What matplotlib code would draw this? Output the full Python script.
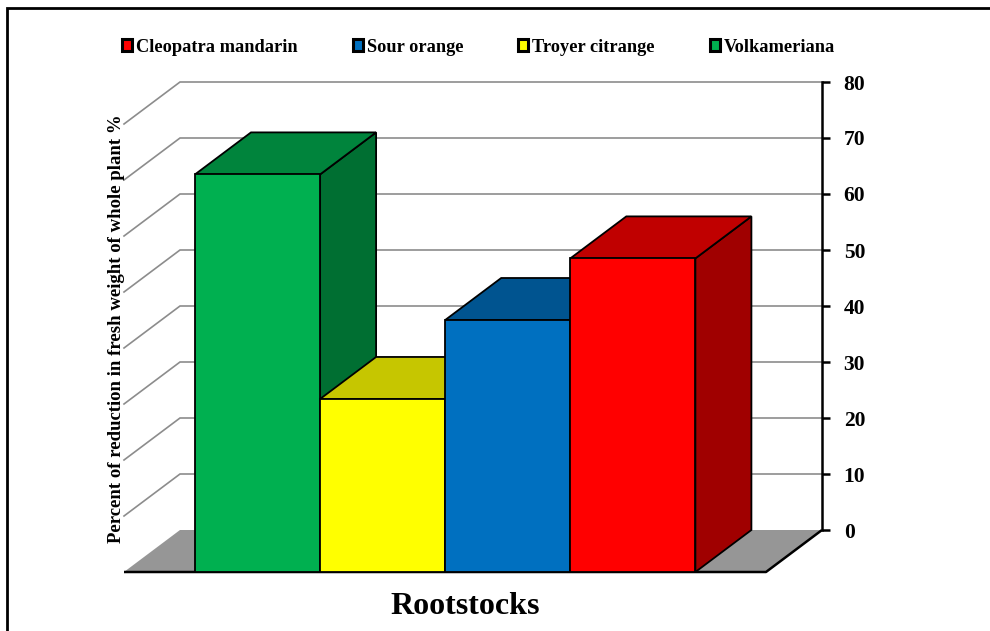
import matplotlib
matplotlib.use("Agg")
import matplotlib.pyplot as plt
from matplotlib.patches import Polygon, Patch

plt.rcParams["font.family"] = ["Liberation Serif"]
plt.rcParams["font.weight"] = "bold"

rootstocks = ["Volkameriana", "Troyer citrange", "Sour orange", "Cleopatra mandarin"]
reduction = [71, 30.9, 45, 56]
front_colors = ["#00B050", "#FFFF00", "#0070C0", "#FF0000"]
top_colors = ["#00843C", "#C6C600", "#005490", "#C00000"]
side_colors = ["#006F32", "#AAAA00", "#004A80", "#A00000"]
value_ticks = [0, 10, 20, 30, 40, 50, 60, 70, 80]

W, H = 990, 631
fig = plt.figure(figsize=(W / 100, H / 100), dpi=100, facecolor="white")

# Scene axes: one x unit is a bar width, one y unit is a percentage point.
bar_px = 125.1
val_px = 5.6
x0_px, y0_px = 195.0, 572.0
ax = fig.add_axes([0, 0, 1, 1])
ax.set_xlim(-x0_px / bar_px, (W - x0_px) / bar_px)
ax.set_ylim((y0_px - H) / val_px, y0_px / val_px)
ax.axis("off")

# Oblique depth of the box, expressed in data units.
dx = 56 / bar_px
dy = 7.5
wall_l = -(195 - 124) / bar_px
wall_r = wall_l + 642 / bar_px

# Floor
ax.fill([wall_l, wall_l + dx, wall_r + dx, wall_r],
        [0, dy, dy, 0], color="#969696", lw=0, zorder=1)
ax.plot([wall_l, wall_r, wall_r + dx], [0, 0, dy], color="black", lw=1.8, zorder=1.5,
        solid_capstyle="butt")

# Gridlines on the left and back walls
for v in value_ticks[1:]:
    ax.plot([wall_l, wall_l + dx, wall_r + dx], [v, v + dy, v + dy],
            color="#8C8C8C", lw=1.2, zorder=1, solid_joinstyle="miter")

# Oblique bars, painted left to right so each one hides its neighbour's side
for i, (val, fc, tc, sc) in enumerate(zip(reduction, front_colors, top_colors, side_colors)):
    z = 2 + i
    edge = dict(edgecolor="black", linewidth=1.3, joinstyle="miter", zorder=z)
    ax.add_patch(Polygon([(i + 1, 0), (i + 1 + dx, dy), (i + 1 + dx, val + dy), (i + 1, val)],
                         facecolor=sc, **edge))
    ax.add_patch(Polygon([(i, val), (i + dx, val + dy), (i + 1 + dx, val + dy), (i + 1, val)],
                         facecolor=tc, **edge))
    ax.add_patch(Polygon([(i, 0), (i + 1, 0), (i + 1, val), (i, val)],
                         facecolor=fc, **edge))

# Value axis on the right edge of the back wall
vax = fig.add_axes([822 / W, 1 - 530 / H, 0.0001, (530 - 82) / H])
vax.set_ylim(0, 80)
vax.set_xticks([])
vax.patch.set_visible(False)
for name in ("left", "top", "bottom"):
    vax.spines[name].set_visible(False)
vax.spines["right"].set_linewidth(1.8)
vax.yaxis.tick_right()
vax.set_yticks(value_ticks)
vax.tick_params(axis="y", length=5.5, width=1.8, pad=10, labelsize=15.5)

fig.text(116.5 / W, 1 - 329 / H, "Percent of reduction in fresh weight of whole plant %",
         rotation=90, ha="center", va="center", fontsize=13.5, fontweight="bold")
fig.text(465 / W, 1 - 606 / H, "Rootstocks", ha="center", va="center",
         fontsize=23, fontweight="bold")

# Legend lists the series from right to left
handles = [Patch(facecolor=c, edgecolor="black", linewidth=2.2)
           for c in reversed(front_colors)]
leg = fig.legend(handles, list(reversed(rootstocks)), ncols=4, frameon=False,
                 loc="center left", bbox_to_anchor=(122 / W, 1 - 47 / H), borderpad=0, borderaxespad=0,
                 handlelength=0.55, handleheight=0.55, handletextpad=0.22, columnspacing=3.0,
                 prop={"family": "Liberation Serif", "weight": "bold", "size": 13.2})

# Partial page frame along the top and left edges
fig.add_artist(plt.Line2D([7 / W, 7 / W, 1], [0, 1 - 8 / H, 1 - 8 / H], color="black", lw=2.0,
                          transform=fig.transFigure, solid_joinstyle="miter"))

fig.savefig("out.png", dpi=100)
